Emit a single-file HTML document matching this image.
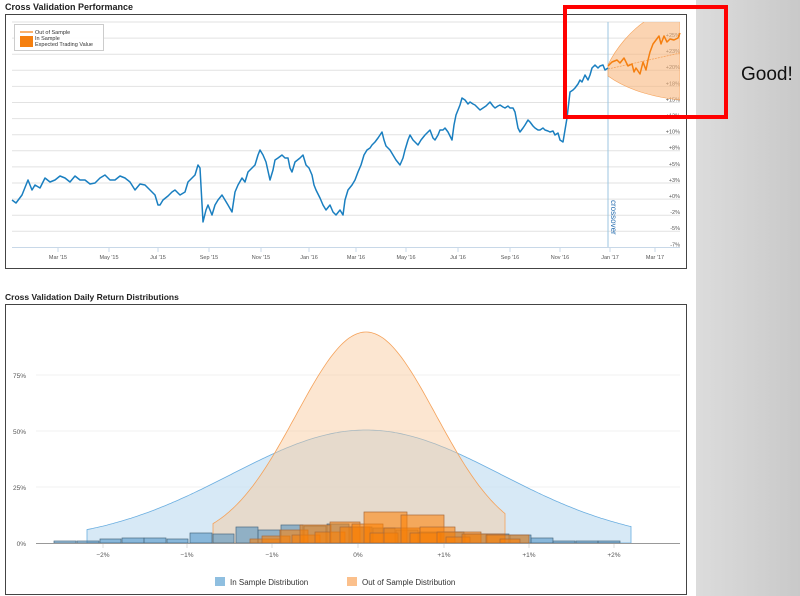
<!DOCTYPE html>
<html><head><meta charset="utf-8">
<style>
html,body{margin:0;padding:0;background:#fff;}
body{width:800px;height:596px;overflow:hidden;position:relative;font-family:"Liberation Sans",sans-serif;}
svg{position:absolute;left:0;top:0;}
</style></head>
<body>
<svg id="s" width="800" height="596" viewBox="0 0 800 596" xmlns="http://www.w3.org/2000/svg">
<defs>
<linearGradient id="gp" x1="0" y1="0" x2="1" y2="0">
<stop offset="0" stop-color="#dcdcdc"/><stop offset="1" stop-color="#c9c9c9"/>
</linearGradient>
<clipPath id="pc"><rect x="8" y="22" width="672" height="226"/></clipPath>
</defs>
<rect x="696" y="0" width="104" height="596" fill="url(#gp)"/>
<text x="5" y="10" font-size="9" font-weight="bold" fill="#222">Cross Validation Performance</text>
<rect x="5.5" y="14.5" width="681" height="254" fill="#fff" stroke="#444" stroke-width="1"/>
<g id="grid" stroke="#e2e2e2" stroke-width="1"></g>
<line x1="12" y1="247.5" x2="680" y2="247.5" stroke="#c8d8e8"/>
<g id="xl" font-size="5.5" fill="#555" text-anchor="middle"></g>
<g id="yl" font-size="5.5" fill="#555" text-anchor="end"></g>
<line x1="608" y1="22" x2="608" y2="247" stroke="#9cc6e0" stroke-width="1"/>
<text transform="translate(611,200) rotate(90)" font-size="8" fill="#2a6fb0">crossover</text>
<g clip-path="url(#pc)">
<path d="M608,65 C615,50 630,30 650,18 L680,12 L680,100 C660,98 630,92 608,76 Z" fill="#f9b77f" fill-opacity="0.6" stroke="#f5a25a" stroke-width="0.6"/>
</g>
<line x1="608" y1="69" x2="680" y2="53" stroke="#f5a25a" stroke-width="0.8" stroke-dasharray="2,1"/>
<polyline id="bl" fill="none" stroke="#1a7fc0" stroke-width="1.5" stroke-linejoin="round"/>
<polyline id="ol" fill="none" stroke="#f57f0f" stroke-width="1.5" stroke-linejoin="round"
 points="608,66 612,62 617,60 620,63 624,58 628,66 632,64 634,72 636,68 640,74 643,62 646,70 648,60 650,52 653,44 656,40 659,36 661,44 664,36 667,42 670,39 674,40 678,38 680,33"/>
<rect x="14.5" y="24.5" width="89" height="26" fill="#fff" fill-opacity="0.9" stroke="#ccc"/>
<line x1="20" y1="32" x2="33" y2="32" stroke="#f57f0f" stroke-width="1.2"/>
<rect x="20" y="36" width="13" height="11" fill="#f57f0f"/>
<text x="35" y="34" font-size="5.5" fill="#333">Out of Sample</text>
<text x="35" y="40" font-size="5.5" fill="#333">In Sample</text>
<text x="35" y="46" font-size="5.5" fill="#333">Expected Trading Value</text>

<rect x="565" y="7" width="161" height="110" fill="none" stroke="#ff0000" stroke-width="4"/>
<text x="741" y="80" font-size="19" fill="#111">Good!</text>

<text x="5" y="300" font-size="8.5" font-weight="bold" fill="#222">Cross Validation Daily Return Distributions</text>
<rect x="5.5" y="304.5" width="681" height="290" fill="#fff" stroke="#444" stroke-width="1"/>
<g stroke="#f0f0f0"><line x1="36" y1="375" x2="680" y2="375"/><line x1="36" y1="431" x2="680" y2="431"/><line x1="36" y1="487" x2="680" y2="487"/></g>
<g font-size="6.5" fill="#555" text-anchor="end"><text x="26" y="378">75%</text><text x="26" y="434">50%</text><text x="26" y="490">25%</text><text x="26" y="546">0%</text></g>
<path id="bg" fill="#c6e0f2" fill-opacity="0.7" stroke="#6aaee0" stroke-width="0.8"/>
<path id="og" fill="#f8c898" fill-opacity="0.45" stroke="#f5a25a" stroke-width="0.8"/>
<g id="bars"></g>
<line x1="36" y1="543.5" x2="680" y2="543.5" stroke="#999"/>
<g font-size="6.5" fill="#555" text-anchor="middle">
<text x="103" y="557">−2%</text><text x="187" y="557">−1%</text><text x="272" y="557">−1%</text><text x="358" y="557">0%</text><text x="444" y="557">+1%</text><text x="529" y="557">+1%</text><text x="614" y="557">+2%</text></g>
<g stroke="#ddd"><line x1="103" y1="544" x2="103" y2="548"/><line x1="187" y1="544" x2="187" y2="548"/><line x1="272" y1="544" x2="272" y2="548"/><line x1="358" y1="544" x2="358" y2="548"/><line x1="444" y1="544" x2="444" y2="548"/><line x1="529" y1="544" x2="529" y2="548"/><line x1="614" y1="544" x2="614" y2="548"/></g>
<rect x="215" y="577" width="10" height="9" fill="#8fbfe0"/>
<text x="230" y="585" font-size="8" fill="#333">In Sample Distribution</text>
<rect x="347" y="577" width="10" height="9" fill="#fbc08c"/>
<text x="362" y="585" font-size="8" fill="#333">Out of Sample Distribution</text>
</svg>
<script>
var N="http://www.w3.org/2000/svg";
function el(t,a,p){var e=document.createElementNS(N,t);for(var k in a)e.setAttribute(k,a[k]);p.appendChild(e);return e;}
var g=document.getElementById('grid');
for(var y=22;y<=247;y+=16.1){el('line',{x1:12,y1:y,x2:680,y2:y},g);}
var xl=document.getElementById('xl');
[["Mar '15",58],["May '15",109],["Jul '15",158],["Sep '15",209],["Nov '15",261],["Jan '16",309],["Mar '16",356],["May '16",406],["Jul '16",458],["Sep '16",510],["Nov '16",560],["Jan '17",610],["Mar '17",655]].forEach(function(a){
 var t=el('text',{x:a[1],y:259},xl);t.textContent=a[0];el('line',{x1:a[1],y1:248,x2:a[1],y2:252,stroke:'#c8d8e8'},xl);});
var yl=document.getElementById('yl');
["+25%","+23%","+20%","+18%","+15%","+13%","+10%","+8%","+5%","+3%","+0%","-2%","-5%","-7%"].forEach(function(s,i){
 var t=el('text',{x:680,y:37+i*16.1},yl);t.textContent=s;});
var pts=[[12,200],[16,203],[22,195],[28,180],[32,190],[35,185],[40,188],[45,178],[50,182],[55,180],[60,176],[65,178],[70,182],[75,176],[80,180],[85,180],[90,184],[95,183],[100,178],[105,175],[110,180],[115,180],[120,176],[125,178],[130,182],[135,190],[140,184],[145,185],[150,190],[155,195],[158,205],[160,205],[163,200],[168,196],[172,192],[175,190],[180,195],[185,192],[188,182],[190,180],[195,175],[198,165],[200,168],[203,222],[206,210],[208,205],[212,215],[215,205],[218,200],[222,195],[225,200],[228,205],[232,212],[235,192],[238,185],[242,178],[245,182],[248,172],[252,168],[255,165],[258,155],[260,150],[263,155],[266,162],[270,180],[273,170],[275,160],[278,158],[282,155],[285,158],[288,158],[290,168],[292,172],[295,162],[300,158],[303,155],[306,165],[309,168],[312,175],[314,185],[316,190],[320,198],[323,205],[326,210],[330,205],[333,212],[336,215],[340,210],[343,215],[345,200],[348,190],[352,185],[355,180],[358,172],[361,165],[364,155],[367,150],[370,148],[372,145],[375,142],[378,138],[380,135],[382,132],[384,140],[386,146],[390,150],[393,155],[396,160],[400,165],[403,158],[405,150],[408,140],[410,135],[413,140],[415,142],[418,145],[421,140],[425,135],[428,132],[430,130],[433,138],[435,140],[438,135],[440,130],[443,130],[445,128],[448,132],[452,140],[454,125],[456,115],[458,110],[460,105],[462,98],[465,100],[468,104],[470,102],[473,104],[475,105],[478,108],[480,110],[483,108],[486,106],[490,102],[493,106],[495,108],[498,106],[500,105],[503,107],[505,108],[508,106],[510,108],[513,108],[515,112],[518,128],[520,132],[523,128],[525,125],[528,120],[530,122],[533,126],[535,128],[538,130],[540,130],[543,128],[545,130],[548,131],[550,132],[553,131],[555,135],[558,133],[560,140],[563,142],[565,130],[567,118],[570,92],[573,90],[575,88],[578,84],[580,80],[582,82],[585,75],[588,80],[590,75],[592,68],[595,65],[598,68],[600,66],[603,65],[605,70],[608,68]];
document.getElementById('bl').setAttribute('points',pts.map(function(p){return p.join(',')}).join(' '));
function gauss(c,s,h,x0,x1){var d="M"+x0+",543";for(var x=x0;x<=x1;x+=2){d+=" L"+x+","+(543-h*Math.exp(-(x-c)*(x-c)/(2*s*s))).toFixed(1);}return d+" L"+x1+",543 Z";}
document.getElementById('bg').setAttribute('d',gauss(366,135,113,87,631));
document.getElementById('og').setAttribute('d',gauss(366,70,211,213,505));
var b=document.getElementById('bars');
var blue=[[54,76,541],[77,99,541],[100,121,539],[122,144,538],[144,166,538],[167,188,539],[190,212,533],[213,234,534],[236,258,527],[258,280,530],[281,303,525],[304,326,526],[327,349,524],[350,372,527],[373,395,528],[396,418,530],[419,441,532],[442,464,532],[465,487,534],[487,509,534],[510,531,535],[531,553,538],[553,575,541],[576,598,541],[598,620,541]];
blue.forEach(function(r){el('rect',{x:r[0],y:r[2],width:r[1]-r[0],height:543-r[2],fill:'#3a86bd','fill-opacity':0.5,stroke:'#4a6a80','stroke-width':0.7},b);});
var or=[[250,280,539],[262,290,536],[280,308,530],[292,320,535],[300,331,525],[315,345,532],[330,360,522],[340,370,527],[352,383,524],[364,407,512],[370,398,533],[384,420,528],[401,444,515],[410,440,533],[420,455,527],[437,481,532],[446,470,537],[462,505,534],[486,529,535],[500,520,539]];
or.forEach(function(r){el('rect',{x:r[0],y:r[2],width:r[1]-r[0],height:543-r[2],fill:'#ff8000','fill-opacity':0.55,stroke:'#a86a3a','stroke-width':0.7},b);});
</script>
</body></html>
